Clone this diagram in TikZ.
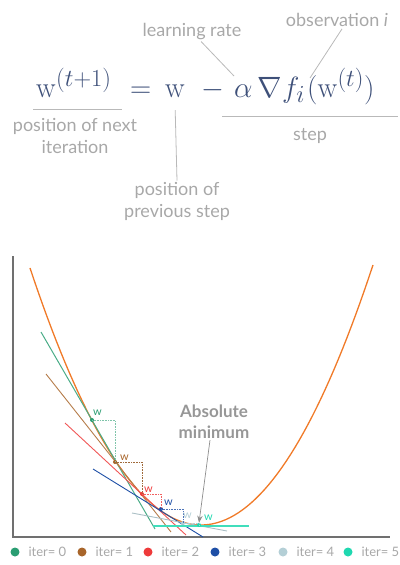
\documentclass[tikz,border=0pt]{standalone}
\usepackage[no-math]{fontspec}
\setmainfont{Lato}
\usepackage{graphicx}
\usepackage{tikz}
\usetikzlibrary{
  positioning,
  arrows.meta,
  calc
}
\usepackage{amsmath,amssymb}
\usepackage{xcolor}
\DeclareMathSizes{24.88}{24.88}{20.74}{14.4}
\definecolor{formula}{HTML}{3E5079}
\definecolor{note}{HTML}{A8A8A8}
\definecolor{axis}{HTML}{707070}
\definecolor{curve}{HTML}{F07A28}
\definecolor{itzero}{HTML}{2A9D72}
\definecolor{itone}{HTML}{A8652A}
\definecolor{ittwo}{HTML}{EE3A3A}
\definecolor{itthree}{HTML}{1E4FA6}
\definecolor{itfour}{HTML}{B4CFD6}
\definecolor{itfive}{HTML}{1FD8B0}
\newcommand{\eqbig}[1]{\scalebox{1.18}{$#1$}}

\begin{document}
\begin{tikzpicture}[
  x=1pt, y=-1pt,
  eqpart/.style={inner sep=0pt, anchor=base west, text=formula,
                 font=\fontsize{24.88}{30}\selectfont},
  note/.style={text=note, align=center, inner sep=1pt,
               font=\fontsize{18}{22}\selectfont},
  ann/.style={draw=note!80, line width=0.8pt},
  dot/.style={circle, fill, inner sep=0pt, minimum size=4pt},
  wlab/.style={font=\fontsize{11}{11}\selectfont, inner sep=0pt, anchor=south west},
  stepline/.style={densely dotted, line width=0.6pt},
  legend/.style={text=note, anchor=west, font=\fontsize{13}{14}\selectfont}
]
  \useasboundingbox (0,0) rectangle (399,565);

  % Update rule
  \node[eqpart] (wnext) at (36,97) {\eqbig{\mathrm{w}^{(t+1)}}};
  \node[eqpart] (eq) at (130,97) {\eqbig{=}};
  \node[eqpart] (wprev) at (165,97) {\eqbig{\mathrm{w}}};
  \node[eqpart] (minus) at (201,97) {\eqbig{-}};
  \node[eqpart] (lr) at (234,97) {\eqbig{\alpha}};
  \node[eqpart] (grad) at (257,97) {\eqbig{\nabla}};
  \node[eqpart] (fi) at (282,97) {\eqbig{f_i}};
  \node[eqpart] (arg) at (307,97) {\eqbig{(\mathrm{w}^{(t)})}};

  % Labels
  \node[note] (lrlabel) at (192,32) {learning rate};
  \node[note] (obslabel) at (337,20) {observation \textit{i}};
  \node[note] (nextlabel) at (75,136) {position of next\\iteration};
  \node[note] (prevlabel) at (177,201) {position of\\previous step};
  \node[note] (steplabel) at (310,136) {step};
  \coordinate (lrtip) at (234,76);
  \coordinate (obstip) at (310,78);

  \draw[ann] (33,109) -- (122,109);
  \draw[ann] (222,116) -- (398,116);
  \draw[ann] (wprev.south) ++(0,13) -- (prevlabel.north);
  \draw[ann] (lrlabel) -- (lrtip);
  \draw[ann] (obslabel.south) ++(5,1) -- (obstip);

  % Axes
  \draw[axis, line width=1.4pt] (13,256) -- (13,537) -- (390,537);

  % Loss curve
  \draw[curve, line width=1.3pt] plot[domain=30:373, samples=80]
    (\x, {525-0.879*((\x-201)/10)^2});

  % Tangents
  \draw[itzero!85, line width=1pt] (41,332) -- (155,529);
  \draw[itone!85, line width=0.9pt] (46,374) -- (171,532);
  \draw[ittwo!85, line width=0.9pt] (65,423) -- (186,535);
  \draw[itthree, line width=0.9pt] (93,469) -- (203,537);
  \draw[itfour!80!gray, line width=0.9pt] (132,513) -- (227,531);
  \draw[itfive!85, line width=1.2pt] (153,526) -- (249,526);

  % Iterates
  \node[dot, itzero] (d0) at (92,420) {};
  \node[dot, itone] (d1) at (115,462) {};
  \node[dot, ittwo] (d2) at (142,494) {};
  \node[dot, itthree] (d3) at (161,509) {};
  \node[dot, itfour] (d4) at (183,523) {};
  \node[dot, itfive] (d5) at (199,525) {};

  \draw[stepline, itzero!60] (d0.center) -| (d1.center);
  \draw[stepline, itone!80!gray] (d1.center) -| (d2.center);
  \draw[stepline, ittwo!80] (d2.center) -| (d3.center);
  \draw[stepline, itthree!80] (d3.center) -| (d4.center);
  \draw[stepline, itfour] (d4.center) -| (d5.center);

  \node[wlab, itzero] at (93,416) {w};
  \node[wlab, itone] at (120,461) {w};
  \node[wlab, ittwo] at (144,493) {w};
  \node[wlab, itthree] at (164,506) {w};
  \node[wlab, itfour] at (183,519) {w};
  \node[wlab, itfive] at (204,521) {w};

  \node[note, text=note!90!black, font=\bfseries\fontsize{17}{21}\selectfont]
    (absmin) at (214,422) {Absolute\\minimum};
  \draw[-{Stealth[length=2.5mm]}, axis!80, line width=0.7pt] (absmin.south) ++(-4,0)
    -- (d5.north);

  % Legend
  \foreach \i/\x/\c in {0/15/itzero, 1/82/itone, 2/148/ittwo,
                        3/215/itthree, 4/283/itfour, 5/348/itfive} {
    \node[dot, \c, minimum size=9pt] (leg\i) at (\x,552) {};
    \node[legend] at ($(leg\i)+(10,0)$) {iter= \i};
  }
\end{tikzpicture}
\end{document}
